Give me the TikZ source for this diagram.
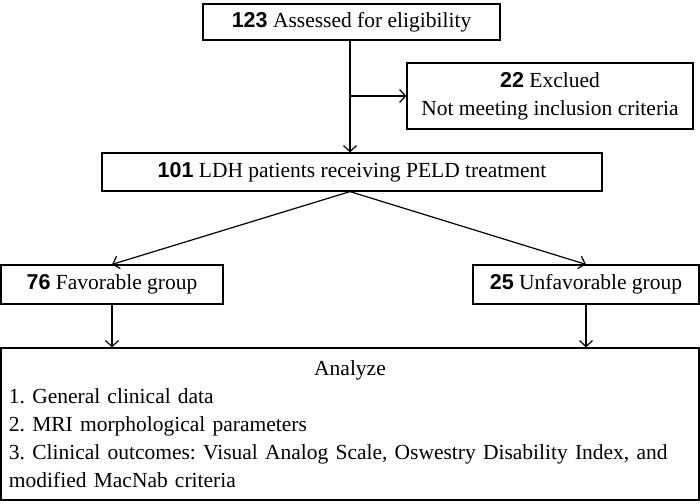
\documentclass[tikz,border=0pt]{standalone}
\usepackage{fontspec}
\setmainfont{Liberation Serif}
\newfontfamily\numfont{Liberation Sans}
\usetikzlibrary{arrows.meta}
\newcommand{\cnt}[1]{{\numfont\bfseries #1}}
\tikzset{
  box/.style={draw=black,line width=1.2pt,inner sep=0pt},
  ->/.style={draw=black,line width=1.2pt,-{Straight Barb[length=6pt,width=13pt]}}
}
\tikzstyle{every node}=[color=black,font=\fontsize{21.5}{28}\selectfont\frenchspacing]

\begin{document}
\begin{tikzpicture}[x=1pt,y=1pt]
    \useasboundingbox (0,0) rectangle (700,-503);
    \node[box,minimum width=297pt,minimum height=36pt] (assess) at (351.5,-22) {\cnt{123} Assessed for eligibility};
    \node[box,minimum width=286pt,minimum height=66pt,align=center] (excl) at (550,-96) {\cnt{22} Exclued\\Not meeting inclusion criteria};
    \node[box,minimum width=500pt,minimum height=38pt] (treat) at (352,-172) {\cnt{101} LDH patients receiving PELD treatment};
    \node[box,minimum width=222pt,minimum height=39pt] (fav) at (112,-284.5) {\cnt{76} Favorable group};
    \node[box,minimum width=226pt,minimum height=39pt] (unfav) at (586,-284.5) {\cnt{25} Unfavorable group};
    \node[box,minimum width=698pt,minimum height=152pt,text width=682pt,align=left] (analyze) at (350,-424)
        {\makebox[\linewidth]{Analyze}\\
         1. General clinical data\\
         2. MRI morphological parameters\\
         3. Clinical outcomes: Visual Analog Scale, Oswestry Disability Index, and\\
         modified MacNab criteria};
    \coordinate (trunk) at (350,-96);
    \draw [->] (assess.south -| trunk) -- (treat.north -| trunk);
    \draw [->] (trunk) -- (excl.west);
    \draw [->] (treat.south -| trunk) -- (fav.north);
    \draw [->] (treat.south -| trunk) -- (unfav.north);
    \draw [->] (fav.south) -- (fav.south |- analyze.north);
    \draw [->] (unfav.south) -- (unfav.south |- analyze.north);
\end{tikzpicture}
\end{document}
